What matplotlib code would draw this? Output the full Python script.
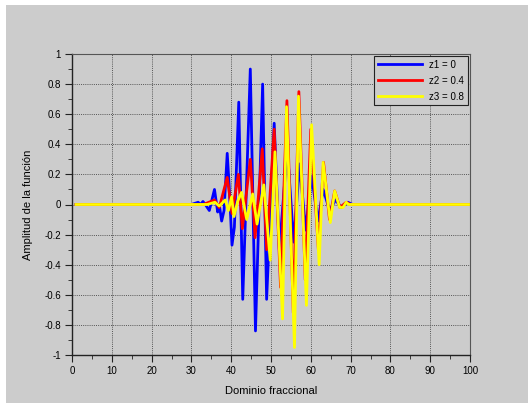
import matplotlib
matplotlib.use('Agg')
import matplotlib.pyplot as plt
from matplotlib.patches import Rectangle
from matplotlib.ticker import MultipleLocator

plt.rcParams['font.family'] = ['Liberation Sans', 'DejaVu Sans']

# z1 = 0 (blue)
x1 = [1, 30, 31.7, 32.3, 32.9, 33.5, 34.5, 35.8, 36.6, 37.0, 37.6, 38.2, 39.0, 39.5,
      40.2, 40.8, 41.9, 42.9, 44.8, 46.1, 47.9, 48.9, 50.8, 52.1, 54.1, 55.7, 57.2,
      58.7, 60.2, 61.8, 63.1, 64.75, 66.2, 67.7, 69.3, 70.5, 100]
y1 = [0, 0, 0.015, 0, 0.02, 0, -0.04, 0.1, -0.05, 0.0, -0.11, -0.04, 0.34, 0.12,
      -0.27, -0.15, 0.68, -0.63, 0.9, -0.84, 0.8, -0.63, 0.54, -0.3, 0.37, -0.25, 0.27,
      -0.17, 0.19, -0.11, 0.1, -0.04, 0.03, -0.02, 0.015, 0, 0]

# z2 = 0.4 (red)
x2 = [1, 33, 35.8, 37, 39.0, 40.2, 41.8, 42.8, 44.8, 46.0, 47.8, 48.9, 50.8, 52.4,
      54.0, 55.6, 57.0, 58.6, 60.0, 61.9, 63.2, 64.7, 66.0, 67.3, 68.9, 70, 100]
y2 = [0, 0, 0.03, -0.02, 0.18, -0.06, 0.2, -0.16, 0.3, -0.22, 0.37, -0.3, 0.5, -0.55,
      0.69, -0.72, 0.75, -0.5, 0.5, -0.3, 0.28, -0.1, 0.09, -0.02, 0.015, 0, 0]

# z3 = 0.8 (yellow)
x3 = [1, 34, 35.9, 37, 38.5, 39.3, 40.1, 40.7, 41.6, 42.6, 43.9, 45.4, 46.5, 48.2,
      49.8, 51.0, 52.9, 53.9, 55.9, 56.9, 58.9, 60.2, 62.1, 63.1, 64.9, 66.0, 67.25,
      68.1, 68.9, 69.5, 100]
y3 = [0, 0, 0.015, -0.01, 0.03, -0.04, 0.05, -0.08, 0.02, 0.08, -0.1, 0.07, -0.13, 0.13,
      -0.37, 0.35, -0.76, 0.65, -0.95, 0.72, -0.67, 0.53, -0.4, 0.28, -0.12, 0.09, -0.02,
      -0.02, 0.015, 0, 0]

gray = '#cccccc'
fig = plt.figure(figsize=(5.28, 4.03), dpi=100, facecolor='white')
fig.patches.append(Rectangle((6 / 528, 0), 1, 398 / 403, transform=fig.transFigure,
                             facecolor=gray, edgecolor='none', zorder=-1))
ax = fig.add_axes([72 / 528, 48 / 403, 398 / 528, 301 / 403])
ax.set_facecolor(gray)

ax.plot(x1, y1, color='#0000ff', lw=2.0, label='z1 = 0')
ax.plot(x2, y2, color='#ff0000', lw=2.0, label='z2 = 0.4')
ax.plot(x3, y3, color='#ffff00', lw=2.0, label='z3 = 0.8')

ax.set_xlim(0, 100)
ax.set_ylim(-1, 1)
ax.xaxis.set_major_locator(MultipleLocator(10))
ax.xaxis.set_minor_locator(MultipleLocator(5))
ax.yaxis.set_minor_locator(MultipleLocator(0.1))
ax.set_yticks([-1, -0.8, -0.6, -0.4, -0.2, 0, 0.2, 0.4, 0.6, 0.8, 1])
ax.set_yticklabels(['-1', '-0.8', '-0.6', '-0.4', '-0.2', '0', '0.2', '0.4', '0.6', '0.8', '1'])
ax.tick_params(which='both', direction='out', labelsize=7, color='#222222')
ax.tick_params(which='major', length=5, pad=3)
ax.tick_params(which='minor', length=3)
ax.grid(True, which='major', color='#555555', linestyle=(0, (1, 1.2)), linewidth=0.7)
for s in ['top', 'right']:
    ax.spines[s].set_color('#555555')
    ax.spines[s].set_linewidth(0.8)
for s in ['left', 'bottom']:
    ax.spines[s].set_color('#222222')
    ax.spines[s].set_linewidth(1.0)

ax.set_xlabel('Dominio fraccional', fontsize=8, labelpad=7)
ax.set_ylabel('Amplitud de la función', fontsize=8, labelpad=8)

leg = ax.legend(loc='upper right', fontsize=7, fancybox=False, framealpha=1,
                facecolor=gray, edgecolor='#222222', handlelength=4.5,
                borderaxespad=0.2, labelspacing=0.6)
leg.get_frame().set_linewidth(0.8)

fig.savefig('out.png', dpi=100)
